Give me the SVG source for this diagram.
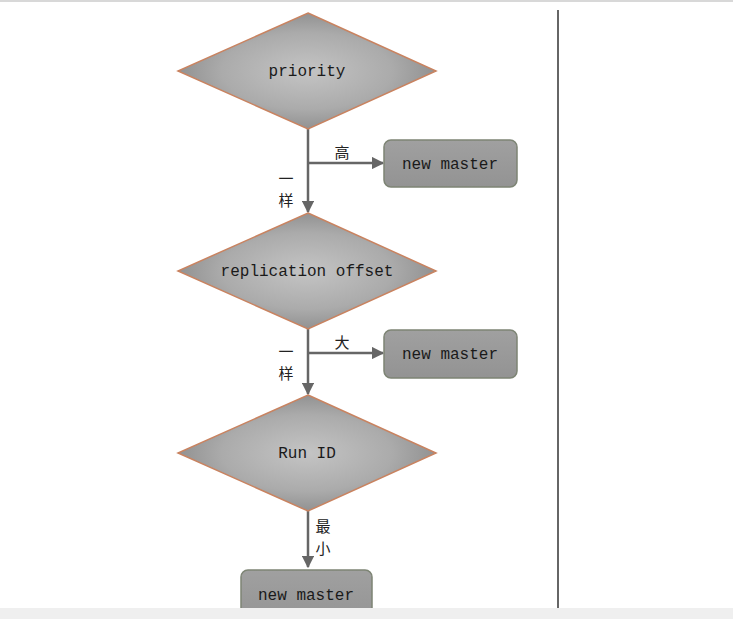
<svg xmlns="http://www.w3.org/2000/svg" width="733" height="619" viewBox="0 0 733 619">
<defs>
<radialGradient id="dg" cx="50%" cy="50%" r="55%">
<stop offset="0" stop-color="#c4c4c4"/>
<stop offset="0.6" stop-color="#ababab"/>
<stop offset="1" stop-color="#8a8a8a"/>
</radialGradient>
<linearGradient id="bg" x1="0" y1="0" x2="0" y2="1">
<stop offset="0" stop-color="#a0a0a0"/>
<stop offset="1" stop-color="#939393"/>
</linearGradient>
<marker id="ah" viewBox="0 0 10 10" refX="9" refY="5" markerWidth="5" markerHeight="5" orient="auto" markerUnits="strokeWidth">
<path d="M0,0 L10,5 L0,10 z" fill="#666"/>
</marker>
</defs>
<style>
.dia{fill:url(#dg);stroke:#c98360;stroke-width:1.5}
.box{fill:url(#bg);stroke:#7d8474;stroke-width:1.5}
.t{font-family:"Liberation Mono","DejaVu Sans Mono",monospace;font-size:16px;fill:#1a1a1a;text-anchor:middle}
.c{font-family:"Noto Sans CJK SC","Noto Sans CJK JP",sans-serif;font-size:15px;fill:#222;text-anchor:middle}
.ln{stroke:#666;stroke-width:2.5;fill:none}
</style>
<rect width="733" height="619" fill="#fff"/>
<rect x="0" y="0" width="733" height="2" fill="#d8d8d8"/>
<line x1="558" y1="10" x2="558" y2="608" stroke="#333" stroke-width="1.5"/>

<g id="connectors">
<line class="ln" x1="308" y1="129" x2="308" y2="212" marker-end="url(#ah)"/>
<line class="ln" x1="308" y1="163" x2="383" y2="163" marker-end="url(#ah)"/>
<line class="ln" x1="308" y1="329" x2="308" y2="394" marker-end="url(#ah)"/>
<line class="ln" x1="308" y1="353" x2="383" y2="353" marker-end="url(#ah)"/>
<line class="ln" x1="308" y1="511" x2="308" y2="567" marker-end="url(#ah)"/>
<text class="c" x="342" y="158">高</text>
<text class="c" x="286" y="184">一<tspan x="286" y="206">样</tspan></text>
<text class="c" x="342" y="348">大</text>
<text class="c" x="286" y="357">一<tspan x="286" y="379">样</tspan></text>
<text class="c" x="323" y="532">最<tspan x="323" y="554">小</tspan></text>
</g>

<g id="priority">
<polygon class="dia" points="308,13 436,71 308,129 178,71"/>
<text class="t" x="307" y="76">priority</text>
</g>
<g id="master1">
<rect class="box" x="384" y="140" width="133" height="47" rx="7"/>
<text class="t" x="450" y="169">new master</text>
</g>
<g id="offset">
<polygon class="dia" points="308,213 436,271 308,329 178,271"/>
<text class="t" x="307" y="276">replication offset</text>
</g>
<g id="master2">
<rect class="box" x="384" y="330" width="133" height="48" rx="7"/>
<text class="t" x="450" y="359">new master</text>
</g>
<g id="runid">
<polygon class="dia" points="308,395 436,453 308,511 178,453"/>
<text class="t" x="307" y="458">Run ID</text>
</g>
<g id="master3">
<rect class="box" x="241" y="570" width="131" height="56" rx="7"/>
<text class="t" x="306" y="600">new master</text>
</g>
<rect x="0" y="608" width="733" height="11" fill="#efefef"/>
</svg>
